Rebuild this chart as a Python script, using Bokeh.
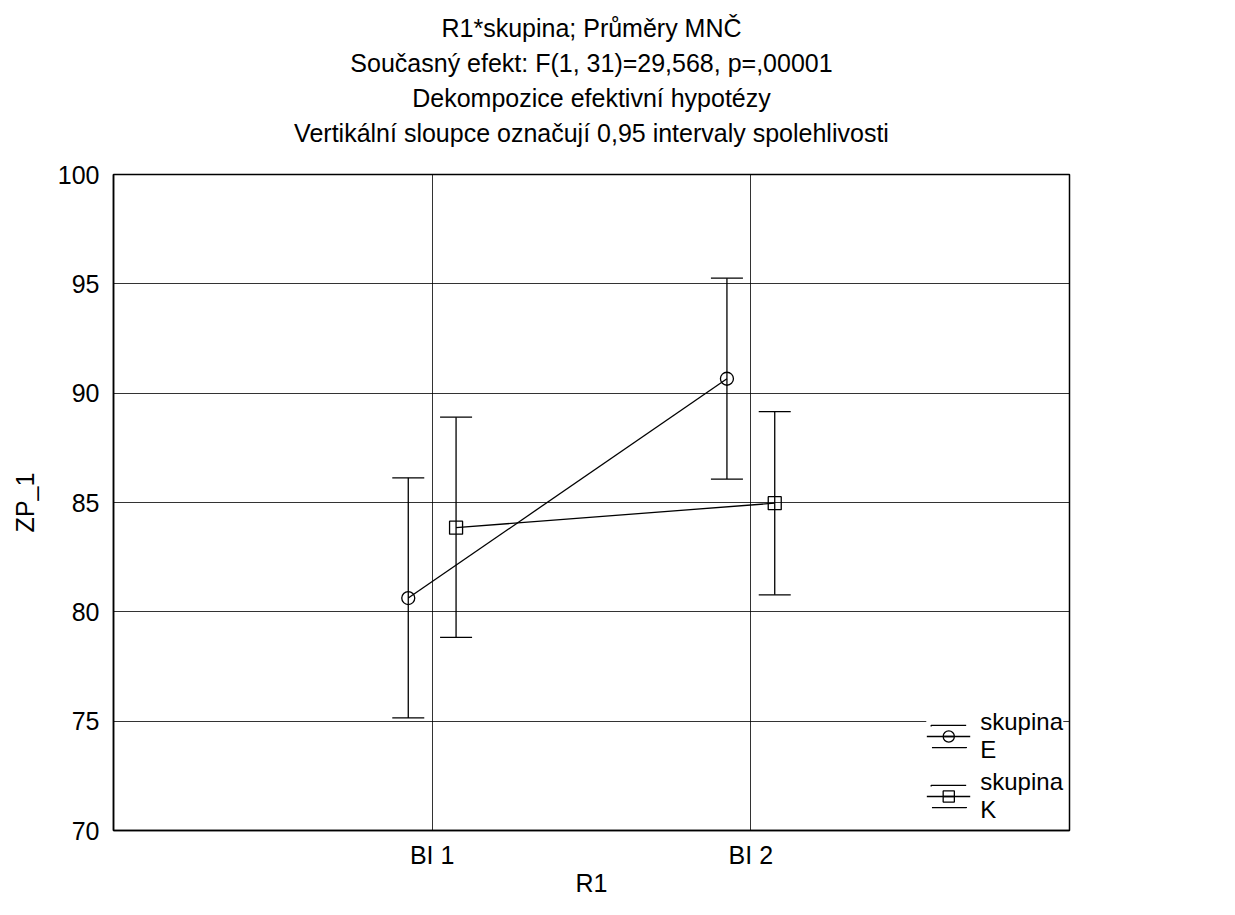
import math
from bokeh.plotting import figure
from bokeh.models import (ColumnDataSource, Whisker, TeeHead, FixedTicker, Range1d,
                          LinearAxis, Legend, LegendItem)
from bokeh.transform import dodge
from bokeh.embed import file_html
from bokeh.resources import INLINE

# ---- data ----
categories = ["BI 1", "BI 2"]
means_E = [80.63, 90.66]
lower_E = [75.15, 86.07]
upper_E = [86.13, 95.26]
means_K = [83.85, 84.97]
lower_K = [78.83, 80.78]
upper_K = [88.90, 89.16]
y_ticks = [70, 75, 80, 85, 90, 95, 100]
legend_labels = ["skupina\nE", "skupina\nK"]
title_lines = [
    "R1*skupina; Průměry MNČ",
    "Současný efekt: F(1, 31)=29,568, p=,00001",
    "Dekompozice efektivní hypotézy",
    "Vertikální sloupce označují 0,95 intervaly spolehlivosti",
]
x_label = "R1"
y_label = "ZP_1"

FONT = "Liberation Sans"
FS = "25px"

# frame geometry (canvas pixels)
FL, FT, FW, FH = 113, 174, 956, 658
W, H = 1219, 899

cat_pos = [i + 1 for i in range(len(categories))]

p = figure(width=W, height=H,
           min_border_left=FL, min_border_right=W - FL - FW,
           min_border_top=FT, min_border_bottom=H - FT - FH,
           x_range=Range1d(0, len(categories) + 1),
           y_range=Range1d(70, 100),
           output_backend="svg", toolbar_location=None, tools="")
p.title.visible = False

# multi-line centred heading, carried by an extra axis above the frame
p.extra_x_ranges = {"head": Range1d(0, 1)}
head = LinearAxis(x_range_name="head", ticker=FixedTicker(ticks=[0.5]),
                  major_label_overrides={0.5: "\n".join(title_lines)},
                  axis_line_color=None, major_tick_in=0, major_tick_out=0,
                  minor_tick_in=0, minor_tick_out=0,
                  major_label_text_font=FONT, major_label_text_font_size=FS,
                  major_label_text_color="black", major_label_text_line_height=1.25,
                  major_label_standoff=28)
p.add_layout(head, "above")

p.outline_line_color = "black"
p.outline_line_width = 1.5
p.background_fill_color = "white"
p.border_fill_color = "white"

for g in (p.xgrid, p.ygrid):
    g.grid_line_color = "black"
    g.grid_line_alpha = 0.8
    g.grid_line_width = 1

xax = p.below[0]
yax = p.left[0]
xax.ticker = FixedTicker(ticks=cat_pos)
xax.major_label_overrides = {pos: c for pos, c in zip(cat_pos, categories)}
yax.ticker = FixedTicker(ticks=y_ticks)
for ax in (xax, yax):
    ax.major_tick_in = 0
    ax.major_tick_out = 0
    ax.minor_tick_in = 0
    ax.minor_tick_out = 0
    ax.axis_line_color = "black"
    ax.axis_line_width = 1.5
    ax.major_label_text_font = FONT
    ax.major_label_text_font_size = FS
    ax.major_label_text_color = "black"
    ax.axis_label_text_font = FONT
    ax.axis_label_text_font_size = FS
    ax.axis_label_text_font_style = "normal"
    ax.axis_label_text_color = "black"

yax.axis_label = y_label
xax.axis_label = x_label
xax.major_label_standoff = 10
xax.axis_label_standoff = -3
yax.major_label_standoff = 14
yax.axis_label_standoff = 16

src_E = ColumnDataSource(dict(x=cat_pos, y=means_E, lo=lower_E, hi=upper_E))
src_K = ColumnDataSource(dict(x=cat_pos, y=means_K, lo=lower_K, hi=upper_K))

OFF = 0.075
items = []
for src, off, marker, lab in ((src_E, -OFF, "circle", legend_labels[0]),
                              (src_K, OFF, "square", legend_labels[1])):
    xs = dodge("x", off)
    w = Whisker(source=src, base=xs, upper="hi", lower="lo",
                line_color="black", line_width=1.3,
                upper_head=TeeHead(size=32, line_color="black", line_width=1.3),
                lower_head=TeeHead(size=32, line_color="black", line_width=1.3))
    p.add_layout(w)
    ln = p.line(x=xs, y="y", source=src, line_color="black", line_width=1.3)
    sc = p.scatter(x=xs, y="y", source=src, marker=marker, size=13,
                   line_color="black", line_width=1.3, fill_alpha=0)
    # legend-only helpers, placed far outside the visible y range:
    # they only draw the caps and the vertical bar of the error-bar icon
    caps = p.quad(left=[0.0], right=[0.1], top=[-10.0], bottom=[-11.0], fill_alpha=0,
                  line_color="black", line_width=1.3, line_dash="35 22")
    vbar = p.scatter(x=[0.0], y=[-10.0], marker="dash", angle=math.pi / 2, size=22,
                     line_color="black", line_width=1.3)
    items.append(LegendItem(label=lab, renderers=[caps, ln, vbar, sc]))

legend = Legend(items=items, location="bottom_right", glyph_width=44, glyph_height=28,
                label_text_font=FONT, label_text_font_size="24px",
                label_text_color="black",
                label_text_line_height=1.12, label_standoff=10,
                padding=4, margin=6, spacing=4,
                border_line_color=None, background_fill_color="white",
                background_fill_alpha=1)
p.add_layout(legend)

open("out.html", "w").write(file_html(p, INLINE))
